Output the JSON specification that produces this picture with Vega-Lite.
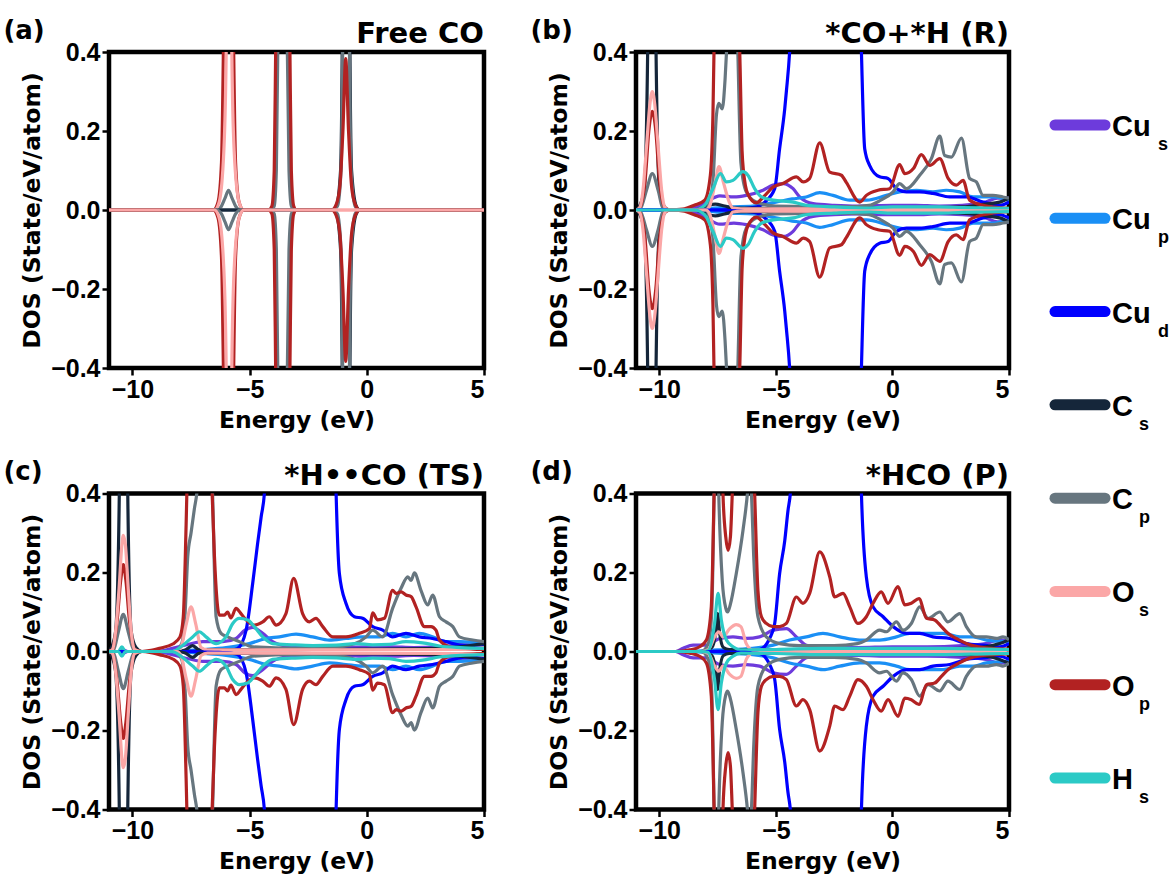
{
  "$schema": "https://vega.github.io/schema/vega-lite/v6.json",
  "background": "white",
  "padding": {"left": 3, "top": 17, "right": 0, "bottom": 0},
  "config": {
    "font": "Liberation Sans",
    "view": {"stroke": "black", "strokeWidth": 4.5},
    "axis": {"labelFont": "Liberation Sans", "labelFontSize": 25, "labelFontWeight": "bold", "labelColor": "black", "titleFont": "DejaVu Sans", "titleFontWeight": "bold", "titleColor": "black", "grid": false, "domain": false, "tickColor": "black", "tickSize": 7, "tickWidth": 2.5, "labelPadding": 2, "titlePadding": 6},
    "axisX": {"titleFontSize": 23.5},
    "axisY": {"titleFontSize": 23.5}
  },
  "datasets": {
    "a": [
      {"o":"C_s","e":-11,"up":0,"dn":0},{"o":"C_s","e":-1.5,"up":0,"dn":0},{"o":"C_s","e":-1.3,"up":0.01,"dn":-0.01},{"o":"C_s","e":-1.12,"up":0.1,"dn":-0.1},{"o":"C_s","e":-1.05,"up":0.4,"dn":-0.4},{"o":"C_s","e":-0.885,"up":3,"dn":-3},{"o":"C_s","e":-0.72,"up":0.4,"dn":-0.4},{"o":"C_s","e":-0.65,"up":0.1,"dn":-0.1},{"o":"C_s","e":-0.45,"up":0.01,"dn":-0.01},{"o":"C_s","e":-0.3,"up":0,"dn":0},{"o":"C_s","e":5,"up":0,"dn":0},
      {"o":"C_p","e":-11,"up":0,"dn":0},{"o":"C_p","e":-6.4,"up":0,"dn":0},{"o":"C_p","e":-6.2,"up":0.01,"dn":-0.01},{"o":"C_p","e":-6.05,"up":0.03,"dn":-0.03},{"o":"C_p","e":-5.9,"up":0.05,"dn":-0.05},{"o":"C_p","e":-5.75,"up":0.03,"dn":-0.03},{"o":"C_p","e":-5.6,"up":0.01,"dn":-0.01},{"o":"C_p","e":-5.4,"up":0,"dn":0},{"o":"C_p","e":-4.1,"up":0,"dn":0},{"o":"C_p","e":-3.95,"up":0.01,"dn":-0.01},{"o":"C_p","e":-3.86,"up":0.1,"dn":-0.1},{"o":"C_p","e":-3.8,"up":0.4,"dn":-0.4},{"o":"C_p","e":-3.6,"up":2.5,"dn":-2.5},{"o":"C_p","e":-3.39,"up":0.4,"dn":-0.4},{"o":"C_p","e":-3.32,"up":0.1,"dn":-0.1},{"o":"C_p","e":-3.22,"up":0.01,"dn":-0.01},{"o":"C_p","e":-3.1,"up":0,"dn":0},{"o":"C_p","e":-1.45,"up":0,"dn":0},{"o":"C_p","e":-1.25,"up":0.01,"dn":-0.01},{"o":"C_p","e":-1.1,"up":0.1,"dn":-0.1},{"o":"C_p","e":-1.03,"up":0.4,"dn":-0.4},{"o":"C_p","e":-0.885,"up":2,"dn":-2},{"o":"C_p","e":-0.74,"up":0.4,"dn":-0.4},{"o":"C_p","e":-0.67,"up":0.1,"dn":-0.1},{"o":"C_p","e":-0.5,"up":0.01,"dn":-0.01},{"o":"C_p","e":-0.35,"up":0,"dn":0},{"o":"C_p","e":5,"up":0,"dn":0},
      {"o":"O_p","e":-11,"up":0,"dn":0},{"o":"O_p","e":-6.55,"up":0,"dn":0},{"o":"O_p","e":-6.35,"up":0.02,"dn":-0.02},{"o":"O_p","e":-6.2,"up":0.12,"dn":-0.12},{"o":"O_p","e":-6.12,"up":0.4,"dn":-0.4},{"o":"O_p","e":-5.9,"up":2,"dn":-2},{"o":"O_p","e":-5.68,"up":0.4,"dn":-0.4},{"o":"O_p","e":-5.6,"up":0.12,"dn":-0.12},{"o":"O_p","e":-5.45,"up":0.02,"dn":-0.02},{"o":"O_p","e":-5.25,"up":0,"dn":0},{"o":"O_p","e":-4.2,"up":0,"dn":0},{"o":"O_p","e":-4.05,"up":0.01,"dn":-0.01},{"o":"O_p","e":-3.95,"up":0.1,"dn":-0.1},{"o":"O_p","e":-3.89,"up":0.4,"dn":-0.4},{"o":"O_p","e":-3.585,"up":2.5,"dn":-2.5},{"o":"O_p","e":-3.28,"up":0.4,"dn":-0.4},{"o":"O_p","e":-3.22,"up":0.1,"dn":-0.1},{"o":"O_p","e":-3.12,"up":0.01,"dn":-0.01},{"o":"O_p","e":-3,"up":0,"dn":0},{"o":"O_p","e":-1.5,"up":0,"dn":0},{"o":"O_p","e":-1.3,"up":0.015,"dn":-0.015},{"o":"O_p","e":-1.15,"up":0.06,"dn":-0.06},{"o":"O_p","e":-1.02,"up":0.2,"dn":-0.2},{"o":"O_p","e":-0.9,"up":0.383,"dn":-0.383},{"o":"O_p","e":-0.78,"up":0.2,"dn":-0.2},{"o":"O_p","e":-0.65,"up":0.06,"dn":-0.06},{"o":"O_p","e":-0.5,"up":0.015,"dn":-0.015},{"o":"O_p","e":-0.3,"up":0,"dn":0},{"o":"O_p","e":5,"up":0,"dn":0},
      {"o":"O_s","e":-11,"up":0,"dn":0},{"o":"O_s","e":-6.5,"up":0,"dn":0},{"o":"O_s","e":-6.3,"up":0.02,"dn":-0.02},{"o":"O_s","e":-6.1,"up":0.15,"dn":-0.15},{"o":"O_s","e":-6,"up":0.4,"dn":-0.4},{"o":"O_s","e":-5.88,"up":1.5,"dn":-1.5},{"o":"O_s","e":-5.76,"up":0.4,"dn":-0.4},{"o":"O_s","e":-5.66,"up":0.15,"dn":-0.15},{"o":"O_s","e":-5.45,"up":0.02,"dn":-0.02},{"o":"O_s","e":-5.25,"up":0,"dn":0},{"o":"O_s","e":5,"up":0,"dn":0}
    ],
    "b": [
      {"o":"Cu_s","e":-11,"up":0,"dn":0},{"o":"Cu_s","e":-9,"up":0,"dn":0},{"o":"Cu_s","e":-8.5,"up":0.005,"dn":-0.005},{"o":"Cu_s","e":-8,"up":0.02,"dn":-0.02},{"o":"Cu_s","e":-7.4,"up":0.036,"dn":-0.036},{"o":"Cu_s","e":-6.8,"up":0.033,"dn":-0.033},{"o":"Cu_s","e":-6.27,"up":0.037,"dn":-0.037},{"o":"Cu_s","e":-5.55,"up":0.05,"dn":-0.05},{"o":"Cu_s","e":-5.12,"up":0.063,"dn":-0.063},{"o":"Cu_s","e":-4.69,"up":0.067,"dn":-0.067},{"o":"Cu_s","e":-4.26,"up":0.054,"dn":-0.054},{"o":"Cu_s","e":-3.98,"up":0.033,"dn":-0.033},{"o":"Cu_s","e":-3.4,"up":0.016,"dn":-0.016},{"o":"Cu_s","e":-2.5,"up":0.012,"dn":-0.012},{"o":"Cu_s","e":-1.5,"up":0.01,"dn":-0.01},{"o":"Cu_s","e":0,"up":0.012,"dn":-0.012},{"o":"Cu_s","e":1,"up":0.012,"dn":-0.012},{"o":"Cu_s","e":2,"up":0.01,"dn":-0.01},{"o":"Cu_s","e":3,"up":0.012,"dn":-0.012},{"o":"Cu_s","e":4,"up":0.02,"dn":-0.02},{"o":"Cu_s","e":4.5,"up":0.03,"dn":-0.03},{"o":"Cu_s","e":5,"up":0.03,"dn":-0.03},
      {"o":"Cu_p","e":-11,"up":0,"dn":0},{"o":"Cu_p","e":-9,"up":0,"dn":0},{"o":"Cu_p","e":-8,"up":0.003,"dn":-0.003},{"o":"Cu_p","e":-7,"up":0.008,"dn":-0.008},{"o":"Cu_p","e":-6,"up":0.01,"dn":-0.01},{"o":"Cu_p","e":-5,"up":0.02,"dn":-0.02},{"o":"Cu_p","e":-4.3,"up":0.028,"dn":-0.028},{"o":"Cu_p","e":-3.7,"up":0.033,"dn":-0.033},{"o":"Cu_p","e":-3.12,"up":0.044,"dn":-0.044},{"o":"Cu_p","e":-2.55,"up":0.037,"dn":-0.037},{"o":"Cu_p","e":-1.83,"up":0.025,"dn":-0.025},{"o":"Cu_p","e":-1.1,"up":0.025,"dn":-0.025},{"o":"Cu_p","e":-0.26,"up":0.037,"dn":-0.037},{"o":"Cu_p","e":0.31,"up":0.046,"dn":-0.046},{"o":"Cu_p","e":1.03,"up":0.05,"dn":-0.05},{"o":"Cu_p","e":1.74,"up":0.046,"dn":-0.046},{"o":"Cu_p","e":2.31,"up":0.05,"dn":-0.05},{"o":"Cu_p","e":2.89,"up":0.046,"dn":-0.046},{"o":"Cu_p","e":3.46,"up":0.033,"dn":-0.033},{"o":"Cu_p","e":4.32,"up":0.033,"dn":-0.033},{"o":"Cu_p","e":5,"up":0.025,"dn":-0.025},
      {"o":"Cu_d","e":-11,"up":0,"dn":0},{"o":"Cu_d","e":-8,"up":0,"dn":0},{"o":"Cu_d","e":-6.5,"up":0.003,"dn":-0.003},{"o":"Cu_d","e":-5.8,"up":0.008,"dn":-0.008},{"o":"Cu_d","e":-5.48,"up":0.02,"dn":-0.02},{"o":"Cu_d","e":-5.05,"up":0.054,"dn":-0.054},{"o":"Cu_d","e":-4.84,"up":0.155,"dn":-0.155},{"o":"Cu_d","e":-4.62,"up":0.256,"dn":-0.256},{"o":"Cu_d","e":-4.55,"up":0.3,"dn":-0.3},{"o":"Cu_d","e":-4.41,"up":0.4,"dn":-0.4},{"o":"Cu_d","e":-4.2,"up":0.7,"dn":-0.7},{"o":"Cu_d","e":-3,"up":1.5,"dn":-1.5},{"o":"Cu_d","e":-2,"up":1.5,"dn":-1.5},{"o":"Cu_d","e":-1.45,"up":0.7,"dn":-0.7},{"o":"Cu_d","e":-1.33,"up":0.4,"dn":-0.4},{"o":"Cu_d","e":-1.19,"up":0.155,"dn":-0.155},{"o":"Cu_d","e":-0.98,"up":0.113,"dn":-0.113},{"o":"Cu_d","e":-0.55,"up":0.084,"dn":-0.084},{"o":"Cu_d","e":-0.19,"up":0.08,"dn":-0.08},{"o":"Cu_d","e":0.17,"up":0.054,"dn":-0.054},{"o":"Cu_d","e":0.6,"up":0.046,"dn":-0.046},{"o":"Cu_d","e":1.17,"up":0.046,"dn":-0.046},{"o":"Cu_d","e":1.74,"up":0.042,"dn":-0.042},{"o":"Cu_d","e":2.46,"up":0.033,"dn":-0.033},{"o":"Cu_d","e":3.17,"up":0.033,"dn":-0.033},{"o":"Cu_d","e":3.89,"up":0.02,"dn":-0.02},{"o":"Cu_d","e":4.6,"up":0.012,"dn":-0.012},{"o":"Cu_d","e":5,"up":0.02,"dn":-0.02},
      {"o":"C_s","e":-11,"up":0,"dn":0},{"o":"C_s","e":-10.85,"up":0.01,"dn":-0.01},{"o":"C_s","e":-10.65,"up":0.05,"dn":-0.05},{"o":"C_s","e":-10.5,"up":0.4,"dn":-0.4},{"o":"C_s","e":-10.32,"up":3,"dn":-3},{"o":"C_s","e":-10.14,"up":0.4,"dn":-0.4},{"o":"C_s","e":-9.99,"up":0.05,"dn":-0.05},{"o":"C_s","e":-9.8,"up":0.01,"dn":-0.01},{"o":"C_s","e":-9.6,"up":0,"dn":0},{"o":"C_s","e":-8.5,"up":0,"dn":0},{"o":"C_s","e":-8,"up":0.01,"dn":-0.01},{"o":"C_s","e":-7.6,"up":0.015,"dn":-0.015},{"o":"C_s","e":-7.2,"up":0.01,"dn":-0.01},{"o":"C_s","e":-6.8,"up":0.005,"dn":-0.005},{"o":"C_s","e":-5,"up":0.004,"dn":-0.004},{"o":"C_s","e":0,"up":0.005,"dn":-0.005},{"o":"C_s","e":3,"up":0.008,"dn":-0.008},{"o":"C_s","e":4,"up":0.015,"dn":-0.015},{"o":"C_s","e":4.6,"up":0.02,"dn":-0.02},{"o":"C_s","e":5,"up":0.03,"dn":-0.03},
      {"o":"C_p","e":-11,"up":0,"dn":0},{"o":"C_p","e":-10.8,"up":0.005,"dn":-0.005},{"o":"C_p","e":-10.55,"up":0.05,"dn":-0.05},{"o":"C_p","e":-10.3,"up":0.092,"dn":-0.092},{"o":"C_p","e":-10.05,"up":0.05,"dn":-0.05},{"o":"C_p","e":-9.85,"up":0.005,"dn":-0.005},{"o":"C_p","e":-9.6,"up":0,"dn":0},{"o":"C_p","e":-8,"up":0,"dn":0},{"o":"C_p","e":-7.85,"up":0.02,"dn":-0.02},{"o":"C_p","e":-7.7,"up":0.071,"dn":-0.071},{"o":"C_p","e":-7.55,"up":0.24,"dn":-0.24},{"o":"C_p","e":-7.45,"up":0.27,"dn":-0.27},{"o":"C_p","e":-7.3,"up":0.256,"dn":-0.256},{"o":"C_p","e":-7.18,"up":0.33,"dn":-0.33},{"o":"C_p","e":-7.1,"up":0.42,"dn":-0.42},{"o":"C_p","e":-6.85,"up":0.8,"dn":-0.8},{"o":"C_p","e":-6.64,"up":0.42,"dn":-0.42},{"o":"C_p","e":-6.5,"up":0.12,"dn":-0.12},{"o":"C_p","e":-6.27,"up":0.046,"dn":-0.046},{"o":"C_p","e":-5.84,"up":0.02,"dn":-0.02},{"o":"C_p","e":-5,"up":0.01,"dn":-0.01},{"o":"C_p","e":-2,"up":0.008,"dn":-0.008},{"o":"C_p","e":-1,"up":0.012,"dn":-0.012},{"o":"C_p","e":-0.5,"up":0.025,"dn":-0.025},{"o":"C_p","e":0.03,"up":0.046,"dn":-0.046},{"o":"C_p","e":0.31,"up":0.067,"dn":-0.067},{"o":"C_p","e":0.6,"up":0.054,"dn":-0.054},{"o":"C_p","e":1.17,"up":0.088,"dn":-0.088},{"o":"C_p","e":1.67,"up":0.13,"dn":-0.13},{"o":"C_p","e":2.03,"up":0.187,"dn":-0.187},{"o":"C_p","e":2.24,"up":0.138,"dn":-0.138},{"o":"C_p","e":2.53,"up":0.134,"dn":-0.134},{"o":"C_p","e":2.96,"up":0.182,"dn":-0.182},{"o":"C_p","e":3.31,"up":0.08,"dn":-0.08},{"o":"C_p","e":3.6,"up":0.071,"dn":-0.071},{"o":"C_p","e":3.89,"up":0.037,"dn":-0.037},{"o":"C_p","e":4.3,"up":0.037,"dn":-0.037},{"o":"C_p","e":4.74,"up":0.033,"dn":-0.033},{"o":"C_p","e":5,"up":0.03,"dn":-0.03},
      {"o":"O_p","e":-11,"up":0,"dn":0},{"o":"O_p","e":-10.85,"up":0.005,"dn":-0.005},{"o":"O_p","e":-10.6,"up":0.08,"dn":-0.08},{"o":"O_p","e":-10.45,"up":0.2,"dn":-0.2},{"o":"O_p","e":-10.3,"up":0.25,"dn":-0.25},{"o":"O_p","e":-10.15,"up":0.2,"dn":-0.2},{"o":"O_p","e":-10,"up":0.08,"dn":-0.08},{"o":"O_p","e":-9.75,"up":0.005,"dn":-0.005},{"o":"O_p","e":-9.5,"up":0,"dn":0},{"o":"O_p","e":-9,"up":0.002,"dn":-0.002},{"o":"O_p","e":-8.5,"up":0.012,"dn":-0.012},{"o":"O_p","e":-8.05,"up":0.025,"dn":-0.025},{"o":"O_p","e":-7.81,"up":0.088,"dn":-0.088},{"o":"O_p","e":-7.7,"up":0.24,"dn":-0.24},{"o":"O_p","e":-7.6,"up":0.6,"dn":-0.6},{"o":"O_p","e":-7,"up":1.5,"dn":-1.5},{"o":"O_p","e":-6.7,"up":0.6,"dn":-0.6},{"o":"O_p","e":-6.55,"up":0.4,"dn":-0.4},{"o":"O_p","e":-6.45,"up":0.15,"dn":-0.15},{"o":"O_p","e":-6.4,"up":0.105,"dn":-0.105},{"o":"O_p","e":-6.2,"up":0.04,"dn":-0.04},{"o":"O_p","e":-5.84,"up":0.018,"dn":-0.018},{"o":"O_p","e":-5.5,"up":0.035,"dn":-0.035},{"o":"O_p","e":-5.12,"up":0.058,"dn":-0.058},{"o":"O_p","e":-4.7,"up":0.067,"dn":-0.067},{"o":"O_p","e":-4.12,"up":0.084,"dn":-0.084},{"o":"O_p","e":-3.83,"up":0.071,"dn":-0.071},{"o":"O_p","e":-3.55,"up":0.08,"dn":-0.08},{"o":"O_p","e":-3.12,"up":0.17,"dn":-0.17},{"o":"O_p","e":-2.69,"up":0.096,"dn":-0.096},{"o":"O_p","e":-2.19,"up":0.088,"dn":-0.088},{"o":"O_p","e":-1.98,"up":0.07,"dn":-0.07},{"o":"O_p","e":-1.4,"up":0.02,"dn":-0.02},{"o":"O_p","e":-1.12,"up":0.037,"dn":-0.037},{"o":"O_p","e":-0.62,"up":0.05,"dn":-0.05},{"o":"O_p","e":-0.12,"up":0.054,"dn":-0.054},{"o":"O_p","e":0.31,"up":0.115,"dn":-0.115},{"o":"O_p","e":0.53,"up":0.092,"dn":-0.092},{"o":"O_p","e":0.9,"up":0.105,"dn":-0.105},{"o":"O_p","e":1.24,"up":0.14,"dn":-0.14},{"o":"O_p","e":1.6,"up":0.113,"dn":-0.113},{"o":"O_p","e":2.03,"up":0.13,"dn":-0.13},{"o":"O_p","e":2.39,"up":0.08,"dn":-0.08},{"o":"O_p","e":2.74,"up":0.063,"dn":-0.063},{"o":"O_p","e":3.03,"up":0.075,"dn":-0.075},{"o":"O_p","e":3.31,"up":0.025,"dn":-0.025},{"o":"O_p","e":3.89,"up":0.012,"dn":-0.012},{"o":"O_p","e":5,"up":0.004,"dn":-0.004},
      {"o":"O_s","e":-11,"up":0,"dn":0},{"o":"O_s","e":-10.85,"up":0.005,"dn":-0.005},{"o":"O_s","e":-10.7,"up":0.05,"dn":-0.05},{"o":"O_s","e":-10.55,"up":0.16,"dn":-0.16},{"o":"O_s","e":-10.4,"up":0.27,"dn":-0.27},{"o":"O_s","e":-10.3,"up":0.3,"dn":-0.3},{"o":"O_s","e":-10.2,"up":0.27,"dn":-0.27},{"o":"O_s","e":-10.05,"up":0.16,"dn":-0.16},{"o":"O_s","e":-9.9,"up":0.05,"dn":-0.05},{"o":"O_s","e":-9.75,"up":0.005,"dn":-0.005},{"o":"O_s","e":-9.6,"up":0,"dn":0},{"o":"O_s","e":-8,"up":0,"dn":0},{"o":"O_s","e":-7.84,"up":0.01,"dn":-0.01},{"o":"O_s","e":-7.6,"up":0.07,"dn":-0.07},{"o":"O_s","e":-7.44,"up":0.11,"dn":-0.11},{"o":"O_s","e":-7.25,"up":0.07,"dn":-0.07},{"o":"O_s","e":-7,"up":0.02,"dn":-0.02},{"o":"O_s","e":-6.84,"up":0.005,"dn":-0.005},{"o":"O_s","e":-6.5,"up":0.003,"dn":-0.003},{"o":"O_s","e":5,"up":0.003,"dn":-0.003},
      {"o":"H_s","e":-11,"up":0,"dn":0},{"o":"H_s","e":-8.5,"up":0,"dn":0},{"o":"H_s","e":-8.05,"up":0.012,"dn":-0.012},{"o":"H_s","e":-7.7,"up":0.054,"dn":-0.054},{"o":"H_s","e":-7.38,"up":0.092,"dn":-0.092},{"o":"H_s","e":-7.12,"up":0.071,"dn":-0.071},{"o":"H_s","e":-6.84,"up":0.075,"dn":-0.075},{"o":"H_s","e":-6.41,"up":0.097,"dn":-0.097},{"o":"H_s","e":-6.2,"up":0.088,"dn":-0.088},{"o":"H_s","e":-5.91,"up":0.054,"dn":-0.054},{"o":"H_s","e":-5.62,"up":0.033,"dn":-0.033},{"o":"H_s","e":-5.12,"up":0.025,"dn":-0.025},{"o":"H_s","e":-4.26,"up":0.02,"dn":-0.02},{"o":"H_s","e":-3.7,"up":0.012,"dn":-0.012},{"o":"H_s","e":-2.5,"up":0.008,"dn":-0.008},{"o":"H_s","e":-1,"up":0.005,"dn":-0.005},{"o":"H_s","e":0,"up":0.008,"dn":-0.008},{"o":"H_s","e":1,"up":0.008,"dn":-0.008},{"o":"H_s","e":2,"up":0.008,"dn":-0.008},{"o":"H_s","e":3,"up":0.006,"dn":-0.006},{"o":"H_s","e":4,"up":0.005,"dn":-0.005},{"o":"H_s","e":5,"up":0.004,"dn":-0.004}
    ],
    "c": [
      {"o":"Cu_s","e":-11,"up":0,"dn":0},{"o":"Cu_s","e":-10.6,"up":0,"dn":0},{"o":"Cu_s","e":-10.4,"up":0.004,"dn":-0.004},{"o":"Cu_s","e":-10.2,"up":0,"dn":0},{"o":"Cu_s","e":-9,"up":0,"dn":0},{"o":"Cu_s","e":-8.3,"up":0.008,"dn":-0.008},{"o":"Cu_s","e":-7.57,"up":0.019,"dn":-0.019},{"o":"Cu_s","e":-7,"up":0.025,"dn":-0.025},{"o":"Cu_s","e":-6.15,"up":0.025,"dn":-0.025},{"o":"Cu_s","e":-5.58,"up":0.033,"dn":-0.033},{"o":"Cu_s","e":-5.2,"up":0.054,"dn":-0.054},{"o":"Cu_s","e":-4.87,"up":0.061,"dn":-0.061},{"o":"Cu_s","e":-4.44,"up":0.046,"dn":-0.046},{"o":"Cu_s","e":-4.02,"up":0.025,"dn":-0.025},{"o":"Cu_s","e":-3.4,"up":0.014,"dn":-0.014},{"o":"Cu_s","e":-2,"up":0.01,"dn":-0.01},{"o":"Cu_s","e":-1,"up":0.01,"dn":-0.01},{"o":"Cu_s","e":0,"up":0.012,"dn":-0.012},{"o":"Cu_s","e":1,"up":0.012,"dn":-0.012},{"o":"Cu_s","e":2,"up":0.01,"dn":-0.01},{"o":"Cu_s","e":3,"up":0.012,"dn":-0.012},{"o":"Cu_s","e":4,"up":0.018,"dn":-0.018},{"o":"Cu_s","e":5,"up":0.025,"dn":-0.025},
      {"o":"Cu_p","e":-11,"up":0,"dn":0},{"o":"Cu_p","e":-9,"up":0,"dn":0},{"o":"Cu_p","e":-7,"up":0.005,"dn":-0.005},{"o":"Cu_p","e":-6,"up":0.01,"dn":-0.01},{"o":"Cu_p","e":-5.01,"up":0.02,"dn":-0.02},{"o":"Cu_p","e":-4.3,"up":0.033,"dn":-0.033},{"o":"Cu_p","e":-3.73,"up":0.037,"dn":-0.037},{"o":"Cu_p","e":-3.02,"up":0.044,"dn":-0.044},{"o":"Cu_p","e":-2.31,"up":0.037,"dn":-0.037},{"o":"Cu_p","e":-1.6,"up":0.029,"dn":-0.029},{"o":"Cu_p","e":-0.89,"up":0.033,"dn":-0.033},{"o":"Cu_p","e":-0.18,"up":0.037,"dn":-0.037},{"o":"Cu_p","e":0.54,"up":0.037,"dn":-0.037},{"o":"Cu_p","e":1.1,"up":0.046,"dn":-0.046},{"o":"Cu_p","e":1.67,"up":0.037,"dn":-0.037},{"o":"Cu_p","e":2.24,"up":0.046,"dn":-0.046},{"o":"Cu_p","e":2.8,"up":0.037,"dn":-0.037},{"o":"Cu_p","e":3.38,"up":0.025,"dn":-0.025},{"o":"Cu_p","e":4,"up":0.025,"dn":-0.025},{"o":"Cu_p","e":5,"up":0.02,"dn":-0.02},
      {"o":"Cu_d","e":-11,"up":0,"dn":0},{"o":"Cu_d","e":-8,"up":0,"dn":0},{"o":"Cu_d","e":-6.5,"up":0.002,"dn":-0.002},{"o":"Cu_d","e":-5.8,"up":0.004,"dn":-0.004},{"o":"Cu_d","e":-5.51,"up":0.008,"dn":-0.008},{"o":"Cu_d","e":-5.15,"up":0.054,"dn":-0.054},{"o":"Cu_d","e":-4.87,"up":0.172,"dn":-0.172},{"o":"Cu_d","e":-4.66,"up":0.273,"dn":-0.273},{"o":"Cu_d","e":-4.51,"up":0.34,"dn":-0.34},{"o":"Cu_d","e":-4.37,"up":0.4,"dn":-0.4},{"o":"Cu_d","e":-4.1,"up":0.8,"dn":-0.8},{"o":"Cu_d","e":-3,"up":1.5,"dn":-1.5},{"o":"Cu_d","e":-2,"up":1.5,"dn":-1.5},{"o":"Cu_d","e":-1.45,"up":0.8,"dn":-0.8},{"o":"Cu_d","e":-1.31,"up":0.4,"dn":-0.4},{"o":"Cu_d","e":-1.17,"up":0.197,"dn":-0.197},{"o":"Cu_d","e":-0.89,"up":0.122,"dn":-0.122},{"o":"Cu_d","e":-0.53,"up":0.088,"dn":-0.088},{"o":"Cu_d","e":-0.18,"up":0.084,"dn":-0.084},{"o":"Cu_d","e":0.25,"up":0.063,"dn":-0.063},{"o":"Cu_d","e":0.68,"up":0.054,"dn":-0.054},{"o":"Cu_d","e":1.1,"up":0.037,"dn":-0.037},{"o":"Cu_d","e":1.67,"up":0.046,"dn":-0.046},{"o":"Cu_d","e":2.24,"up":0.037,"dn":-0.037},{"o":"Cu_d","e":2.8,"up":0.033,"dn":-0.033},{"o":"Cu_d","e":3.38,"up":0.025,"dn":-0.025},{"o":"Cu_d","e":3.95,"up":0.016,"dn":-0.016},{"o":"Cu_d","e":5,"up":0.012,"dn":-0.012},
      {"o":"C_s","e":-11,"up":0,"dn":0},{"o":"C_s","e":-10.9,"up":0.01,"dn":-0.01},{"o":"C_s","e":-10.72,"up":0.05,"dn":-0.05},{"o":"C_s","e":-10.56,"up":0.4,"dn":-0.4},{"o":"C_s","e":-10.38,"up":3,"dn":-3},{"o":"C_s","e":-10.2,"up":0.4,"dn":-0.4},{"o":"C_s","e":-10.05,"up":0.05,"dn":-0.05},{"o":"C_s","e":-9.85,"up":0.01,"dn":-0.01},{"o":"C_s","e":-9.6,"up":0,"dn":0},{"o":"C_s","e":-8,"up":0,"dn":0},{"o":"C_s","e":-7.75,"up":0.004,"dn":-0.004},{"o":"C_s","e":-7.43,"up":0.015,"dn":-0.015},{"o":"C_s","e":-7.15,"up":0.004,"dn":-0.004},{"o":"C_s","e":-6.8,"up":0.005,"dn":-0.005},{"o":"C_s","e":-3,"up":0.005,"dn":-0.005},{"o":"C_s","e":0,"up":0.006,"dn":-0.006},{"o":"C_s","e":3,"up":0.008,"dn":-0.008},{"o":"C_s","e":4,"up":0.012,"dn":-0.012},{"o":"C_s","e":5,"up":0.02,"dn":-0.02},
      {"o":"C_p","e":-11,"up":0,"dn":0},{"o":"C_p","e":-10.8,"up":0.005,"dn":-0.005},{"o":"C_p","e":-10.6,"up":0.05,"dn":-0.05},{"o":"C_p","e":-10.39,"up":0.094,"dn":-0.094},{"o":"C_p","e":-10.18,"up":0.05,"dn":-0.05},{"o":"C_p","e":-9.95,"up":0.005,"dn":-0.005},{"o":"C_p","e":-9.7,"up":0,"dn":0},{"o":"C_p","e":-8.2,"up":0,"dn":0},{"o":"C_p","e":-7.9,"up":0.02,"dn":-0.02},{"o":"C_p","e":-7.75,"up":0.1,"dn":-0.1},{"o":"C_p","e":-7.64,"up":0.24,"dn":-0.24},{"o":"C_p","e":-7.5,"up":0.3,"dn":-0.3},{"o":"C_p","e":-7.36,"up":0.36,"dn":-0.36},{"o":"C_p","e":-7.22,"up":0.42,"dn":-0.42},{"o":"C_p","e":-6.9,"up":0.9,"dn":-0.9},{"o":"C_p","e":-6.59,"up":0.42,"dn":-0.42},{"o":"C_p","e":-6.43,"up":0.088,"dn":-0.088},{"o":"C_p","e":-6.22,"up":0.046,"dn":-0.046},{"o":"C_p","e":-5.94,"up":0.037,"dn":-0.037},{"o":"C_p","e":-5.44,"up":0.025,"dn":-0.025},{"o":"C_p","e":-4.87,"up":0.012,"dn":-0.012},{"o":"C_p","e":-3,"up":0.008,"dn":-0.008},{"o":"C_p","e":-1.5,"up":0.01,"dn":-0.01},{"o":"C_p","e":-0.5,"up":0.02,"dn":-0.02},{"o":"C_p","e":-0.03,"up":0.037,"dn":-0.037},{"o":"C_p","e":0.25,"up":0.054,"dn":-0.054},{"o":"C_p","e":0.68,"up":0.037,"dn":-0.037},{"o":"C_p","e":1.1,"up":0.109,"dn":-0.109},{"o":"C_p","e":1.46,"up":0.16,"dn":-0.16},{"o":"C_p","e":1.75,"up":0.189,"dn":-0.189},{"o":"C_p","e":1.89,"up":0.18,"dn":-0.18},{"o":"C_p","e":2.03,"up":0.199,"dn":-0.199},{"o":"C_p","e":2.31,"up":0.155,"dn":-0.155},{"o":"C_p","e":2.6,"up":0.118,"dn":-0.118},{"o":"C_p","e":2.81,"up":0.143,"dn":-0.143},{"o":"C_p","e":3.1,"up":0.088,"dn":-0.088},{"o":"C_p","e":3.38,"up":0.075,"dn":-0.075},{"o":"C_p","e":3.67,"up":0.063,"dn":-0.063},{"o":"C_p","e":3.95,"up":0.037,"dn":-0.037},{"o":"C_p","e":4.52,"up":0.029,"dn":-0.029},{"o":"C_p","e":5,"up":0.025,"dn":-0.025},
      {"o":"O_p","e":-11,"up":0,"dn":0},{"o":"O_p","e":-10.85,"up":0.005,"dn":-0.005},{"o":"O_p","e":-10.65,"up":0.08,"dn":-0.08},{"o":"O_p","e":-10.5,"up":0.18,"dn":-0.18},{"o":"O_p","e":-10.39,"up":0.22,"dn":-0.22},{"o":"O_p","e":-10.28,"up":0.18,"dn":-0.18},{"o":"O_p","e":-10.13,"up":0.08,"dn":-0.08},{"o":"O_p","e":-9.9,"up":0.005,"dn":-0.005},{"o":"O_p","e":-9.6,"up":0,"dn":0},{"o":"O_p","e":-9.2,"up":0.003,"dn":-0.003},{"o":"O_p","e":-8.85,"up":0.008,"dn":-0.008},{"o":"O_p","e":-8.28,"up":0.019,"dn":-0.019},{"o":"O_p","e":-7.97,"up":0.037,"dn":-0.037},{"o":"O_p","e":-7.83,"up":0.088,"dn":-0.088},{"o":"O_p","e":-7.71,"up":0.32,"dn":-0.32},{"o":"O_p","e":-7.6,"up":0.6,"dn":-0.6},{"o":"O_p","e":-7.1,"up":1.5,"dn":-1.5},{"o":"O_p","e":-6.7,"up":0.6,"dn":-0.6},{"o":"O_p","e":-6.6,"up":0.4,"dn":-0.4},{"o":"O_p","e":-6.5,"up":0.24,"dn":-0.24},{"o":"O_p","e":-6.29,"up":0.092,"dn":-0.092},{"o":"O_p","e":-6.08,"up":0.092,"dn":-0.092},{"o":"O_p","e":-5.94,"up":0.1,"dn":-0.1},{"o":"O_p","e":-5.8,"up":0.085,"dn":-0.085},{"o":"O_p","e":-5.58,"up":0.109,"dn":-0.109},{"o":"O_p","e":-5.37,"up":0.096,"dn":-0.096},{"o":"O_p","e":-5.15,"up":0.08,"dn":-0.08},{"o":"O_p","e":-4.8,"up":0.067,"dn":-0.067},{"o":"O_p","e":-4.44,"up":0.075,"dn":-0.075},{"o":"O_p","e":-4.16,"up":0.088,"dn":-0.088},{"o":"O_p","e":-3.87,"up":0.067,"dn":-0.067},{"o":"O_p","e":-3.45,"up":0.096,"dn":-0.096},{"o":"O_p","e":-3.12,"up":0.185,"dn":-0.185},{"o":"O_p","e":-2.74,"up":0.096,"dn":-0.096},{"o":"O_p","e":-2.45,"up":0.075,"dn":-0.075},{"o":"O_p","e":-2.17,"up":0.084,"dn":-0.084},{"o":"O_p","e":-1.88,"up":0.063,"dn":-0.063},{"o":"O_p","e":-1.45,"up":0.037,"dn":-0.037},{"o":"O_p","e":-0.89,"up":0.037,"dn":-0.037},{"o":"O_p","e":-0.32,"up":0.046,"dn":-0.046},{"o":"O_p","e":0.11,"up":0.058,"dn":-0.058},{"o":"O_p","e":0.25,"up":0.098,"dn":-0.098},{"o":"O_p","e":0.46,"up":0.08,"dn":-0.08},{"o":"O_p","e":0.75,"up":0.084,"dn":-0.084},{"o":"O_p","e":1.1,"up":0.155,"dn":-0.155},{"o":"O_p","e":1.25,"up":0.147,"dn":-0.147},{"o":"O_p","e":1.46,"up":0.151,"dn":-0.151},{"o":"O_p","e":1.67,"up":0.143,"dn":-0.143},{"o":"O_p","e":1.89,"up":0.139,"dn":-0.139},{"o":"O_p","e":2.1,"up":0.113,"dn":-0.113},{"o":"O_p","e":2.46,"up":0.063,"dn":-0.063},{"o":"O_p","e":2.74,"up":0.063,"dn":-0.063},{"o":"O_p","e":2.95,"up":0.054,"dn":-0.054},{"o":"O_p","e":3.1,"up":0.029,"dn":-0.029},{"o":"O_p","e":3.52,"up":0.012,"dn":-0.012},{"o":"O_p","e":4.2,"up":0.006,"dn":-0.006},{"o":"O_p","e":5,"up":0.005,"dn":-0.005},
      {"o":"O_s","e":-11,"up":0,"dn":0},{"o":"O_s","e":-10.85,"up":0.005,"dn":-0.005},{"o":"O_s","e":-10.72,"up":0.05,"dn":-0.05},{"o":"O_s","e":-10.57,"up":0.16,"dn":-0.16},{"o":"O_s","e":-10.45,"up":0.27,"dn":-0.27},{"o":"O_s","e":-10.39,"up":0.294,"dn":-0.294},{"o":"O_s","e":-10.3,"up":0.27,"dn":-0.27},{"o":"O_s","e":-10.18,"up":0.16,"dn":-0.16},{"o":"O_s","e":-10.05,"up":0.05,"dn":-0.05},{"o":"O_s","e":-9.9,"up":0.005,"dn":-0.005},{"o":"O_s","e":-9.6,"up":0,"dn":0},{"o":"O_s","e":-8.1,"up":0,"dn":0},{"o":"O_s","e":-7.93,"up":0.01,"dn":-0.01},{"o":"O_s","e":-7.7,"up":0.07,"dn":-0.07},{"o":"O_s","e":-7.5,"up":0.113,"dn":-0.113},{"o":"O_s","e":-7.3,"up":0.07,"dn":-0.07},{"o":"O_s","e":-7.07,"up":0.01,"dn":-0.01},{"o":"O_s","e":-6.8,"up":0.004,"dn":-0.004},{"o":"O_s","e":-4,"up":0.004,"dn":-0.004},{"o":"O_s","e":4,"up":0.005,"dn":-0.005},{"o":"O_s","e":5,"up":0.01,"dn":-0.01},
      {"o":"H_s","e":-11,"up":0,"dn":0},{"o":"H_s","e":-10.6,"up":0,"dn":0},{"o":"H_s","e":-10.45,"up":0.012,"dn":-0.012},{"o":"H_s","e":-10.3,"up":0,"dn":0},{"o":"H_s","e":-8.3,"up":0,"dn":0},{"o":"H_s","e":-7.93,"up":0.012,"dn":-0.012},{"o":"H_s","e":-7.43,"up":0.037,"dn":-0.037},{"o":"H_s","e":-7.15,"up":0.05,"dn":-0.05},{"o":"H_s","e":-6.86,"up":0.037,"dn":-0.037},{"o":"H_s","e":-6.43,"up":0.02,"dn":-0.02},{"o":"H_s","e":-6.01,"up":0.037,"dn":-0.037},{"o":"H_s","e":-5.72,"up":0.071,"dn":-0.071},{"o":"H_s","e":-5.44,"up":0.084,"dn":-0.084},{"o":"H_s","e":-5.08,"up":0.08,"dn":-0.08},{"o":"H_s","e":-4.8,"up":0.063,"dn":-0.063},{"o":"H_s","e":-4.44,"up":0.037,"dn":-0.037},{"o":"H_s","e":-4.02,"up":0.02,"dn":-0.02},{"o":"H_s","e":-3.2,"up":0.017,"dn":-0.017},{"o":"H_s","e":-2.3,"up":0.015,"dn":-0.015},{"o":"H_s","e":-1.3,"up":0.016,"dn":-0.016},{"o":"H_s","e":-0.46,"up":0.02,"dn":-0.02},{"o":"H_s","e":0.25,"up":0.017,"dn":-0.017},{"o":"H_s","e":0.96,"up":0.018,"dn":-0.018},{"o":"H_s","e":1.67,"up":0.025,"dn":-0.025},{"o":"H_s","e":2.38,"up":0.022,"dn":-0.022},{"o":"H_s","e":3.1,"up":0.014,"dn":-0.014},{"o":"H_s","e":4,"up":0.01,"dn":-0.01},{"o":"H_s","e":5,"up":0.008,"dn":-0.008}
    ],
    "d": [
      {"o":"Cu_s","e":-11,"up":0,"dn":0},{"o":"Cu_s","e":-9.3,"up":0,"dn":0},{"o":"Cu_s","e":-8.98,"up":0.008,"dn":-0.008},{"o":"Cu_s","e":-8.55,"up":0.016,"dn":-0.016},{"o":"Cu_s","e":-7.98,"up":0.016,"dn":-0.016},{"o":"Cu_s","e":-7.41,"up":0.033,"dn":-0.033},{"o":"Cu_s","e":-6.84,"up":0.037,"dn":-0.037},{"o":"Cu_s","e":-6.27,"up":0.033,"dn":-0.033},{"o":"Cu_s","e":-5.7,"up":0.037,"dn":-0.037},{"o":"Cu_s","e":-5.12,"up":0.054,"dn":-0.054},{"o":"Cu_s","e":-4.55,"up":0.058,"dn":-0.058},{"o":"Cu_s","e":-4.12,"up":0.037,"dn":-0.037},{"o":"Cu_s","e":-3.69,"up":0.016,"dn":-0.016},{"o":"Cu_s","e":-3,"up":0.01,"dn":-0.01},{"o":"Cu_s","e":-1.5,"up":0.01,"dn":-0.01},{"o":"Cu_s","e":0,"up":0.012,"dn":-0.012},{"o":"Cu_s","e":1.5,"up":0.012,"dn":-0.012},{"o":"Cu_s","e":3,"up":0.015,"dn":-0.015},{"o":"Cu_s","e":4,"up":0.02,"dn":-0.02},{"o":"Cu_s","e":4.6,"up":0.03,"dn":-0.03},{"o":"Cu_s","e":5,"up":0.025,"dn":-0.025},
      {"o":"Cu_p","e":-11,"up":0,"dn":0},{"o":"Cu_p","e":-9,"up":0,"dn":0},{"o":"Cu_p","e":-7.5,"up":0.004,"dn":-0.004},{"o":"Cu_p","e":-6,"up":0.008,"dn":-0.008},{"o":"Cu_p","e":-5.12,"up":0.016,"dn":-0.016},{"o":"Cu_p","e":-4.41,"up":0.029,"dn":-0.029},{"o":"Cu_p","e":-3.69,"up":0.037,"dn":-0.037},{"o":"Cu_p","e":-2.98,"up":0.046,"dn":-0.046},{"o":"Cu_p","e":-2.26,"up":0.037,"dn":-0.037},{"o":"Cu_p","e":-1.4,"up":0.029,"dn":-0.029},{"o":"Cu_p","e":-0.55,"up":0.029,"dn":-0.029},{"o":"Cu_p","e":0.17,"up":0.037,"dn":-0.037},{"o":"Cu_p","e":0.74,"up":0.046,"dn":-0.046},{"o":"Cu_p","e":1.46,"up":0.046,"dn":-0.046},{"o":"Cu_p","e":2.17,"up":0.046,"dn":-0.046},{"o":"Cu_p","e":2.89,"up":0.037,"dn":-0.037},{"o":"Cu_p","e":3.46,"up":0.037,"dn":-0.037},{"o":"Cu_p","e":4.03,"up":0.029,"dn":-0.029},{"o":"Cu_p","e":5,"up":0.025,"dn":-0.025},
      {"o":"Cu_d","e":-11,"up":0,"dn":0},{"o":"Cu_d","e":-8,"up":0,"dn":0},{"o":"Cu_d","e":-6.5,"up":0.002,"dn":-0.002},{"o":"Cu_d","e":-5.7,"up":0.005,"dn":-0.005},{"o":"Cu_d","e":-5.27,"up":0.033,"dn":-0.033},{"o":"Cu_d","e":-5.05,"up":0.071,"dn":-0.071},{"o":"Cu_d","e":-4.84,"up":0.197,"dn":-0.197},{"o":"Cu_d","e":-4.62,"up":0.28,"dn":-0.28},{"o":"Cu_d","e":-4.48,"up":0.357,"dn":-0.357},{"o":"Cu_d","e":-4.38,"up":0.4,"dn":-0.4},{"o":"Cu_d","e":-4.1,"up":0.8,"dn":-0.8},{"o":"Cu_d","e":-3,"up":1.5,"dn":-1.5},{"o":"Cu_d","e":-2,"up":1.5,"dn":-1.5},{"o":"Cu_d","e":-1.45,"up":0.8,"dn":-0.8},{"o":"Cu_d","e":-1.33,"up":0.4,"dn":-0.4},{"o":"Cu_d","e":-1.12,"up":0.189,"dn":-0.189},{"o":"Cu_d","e":-0.83,"up":0.113,"dn":-0.113},{"o":"Cu_d","e":-0.4,"up":0.088,"dn":-0.088},{"o":"Cu_d","e":0.03,"up":0.063,"dn":-0.063},{"o":"Cu_d","e":0.6,"up":0.046,"dn":-0.046},{"o":"Cu_d","e":1.17,"up":0.046,"dn":-0.046},{"o":"Cu_d","e":1.74,"up":0.037,"dn":-0.037},{"o":"Cu_d","e":2.46,"up":0.033,"dn":-0.033},{"o":"Cu_d","e":3.17,"up":0.02,"dn":-0.02},{"o":"Cu_d","e":3.89,"up":0.016,"dn":-0.016},{"o":"Cu_d","e":4.6,"up":0.012,"dn":-0.012},{"o":"Cu_d","e":5,"up":0.02,"dn":-0.02},
      {"o":"C_s","e":-11,"up":0,"dn":0},{"o":"C_s","e":-8.2,"up":0,"dn":0},{"o":"C_s","e":-7.75,"up":0.01,"dn":-0.01},{"o":"C_s","e":-7.58,"up":0.05,"dn":-0.05},{"o":"C_s","e":-7.5,"up":0.096,"dn":-0.096},{"o":"C_s","e":-7.42,"up":0.05,"dn":-0.05},{"o":"C_s","e":-7.25,"up":0.01,"dn":-0.01},{"o":"C_s","e":-7,"up":0.005,"dn":-0.005},{"o":"C_s","e":-3,"up":0.005,"dn":-0.005},{"o":"C_s","e":0,"up":0.006,"dn":-0.006},{"o":"C_s","e":3,"up":0.008,"dn":-0.008},{"o":"C_s","e":4,"up":0.012,"dn":-0.012},{"o":"C_s","e":4.6,"up":0.02,"dn":-0.02},{"o":"C_s","e":5,"up":0.03,"dn":-0.03},
      {"o":"C_p","e":-11,"up":0,"dn":0},{"o":"C_p","e":-8.2,"up":0,"dn":0},{"o":"C_p","e":-7.9,"up":0.02,"dn":-0.02},{"o":"C_p","e":-7.75,"up":0.1,"dn":-0.1},{"o":"C_p","e":-7.65,"up":0.4,"dn":-0.4},{"o":"C_p","e":-7.55,"up":0.7,"dn":-0.7},{"o":"C_p","e":-7.45,"up":0.4,"dn":-0.4},{"o":"C_p","e":-7.3,"up":0.18,"dn":-0.18},{"o":"C_p","e":-7.15,"up":0.11,"dn":-0.11},{"o":"C_p","e":-7.07,"up":0.1,"dn":-0.1},{"o":"C_p","e":-6.95,"up":0.12,"dn":-0.12},{"o":"C_p","e":-6.7,"up":0.197,"dn":-0.197},{"o":"C_p","e":-6.41,"up":0.307,"dn":-0.307},{"o":"C_p","e":-6.22,"up":0.4,"dn":-0.4},{"o":"C_p","e":-6.15,"up":0.45,"dn":-0.45},{"o":"C_p","e":-6.05,"up":0.4,"dn":-0.4},{"o":"C_p","e":-5.95,"up":0.24,"dn":-0.24},{"o":"C_p","e":-5.77,"up":0.088,"dn":-0.088},{"o":"C_p","e":-5.41,"up":0.037,"dn":-0.037},{"o":"C_p","e":-4.84,"up":0.02,"dn":-0.02},{"o":"C_p","e":-4,"up":0.015,"dn":-0.015},{"o":"C_p","e":-2.5,"up":0.015,"dn":-0.015},{"o":"C_p","e":-1.5,"up":0.02,"dn":-0.02},{"o":"C_p","e":-1.12,"up":0.029,"dn":-0.029},{"o":"C_p","e":-0.55,"up":0.054,"dn":-0.054},{"o":"C_p","e":-0.26,"up":0.05,"dn":-0.05},{"o":"C_p","e":0.17,"up":0.075,"dn":-0.075},{"o":"C_p","e":0.45,"up":0.054,"dn":-0.054},{"o":"C_p","e":0.81,"up":0.071,"dn":-0.071},{"o":"C_p","e":1.17,"up":0.113,"dn":-0.113},{"o":"C_p","e":1.53,"up":0.084,"dn":-0.084},{"o":"C_p","e":2.03,"up":0.1,"dn":-0.1},{"o":"C_p","e":2.38,"up":0.075,"dn":-0.075},{"o":"C_p","e":2.89,"up":0.096,"dn":-0.096},{"o":"C_p","e":3.17,"up":0.063,"dn":-0.063},{"o":"C_p","e":3.6,"up":0.037,"dn":-0.037},{"o":"C_p","e":4.03,"up":0.037,"dn":-0.037},{"o":"C_p","e":4.46,"up":0.033,"dn":-0.033},{"o":"C_p","e":4.74,"up":0.037,"dn":-0.037},{"o":"C_p","e":5,"up":0.03,"dn":-0.03},
      {"o":"O_p","e":-11,"up":0,"dn":0},{"o":"O_p","e":-9.3,"up":0,"dn":0},{"o":"O_p","e":-8.7,"up":0.004,"dn":-0.004},{"o":"O_p","e":-8.27,"up":0.012,"dn":-0.012},{"o":"O_p","e":-7.98,"up":0.029,"dn":-0.029},{"o":"O_p","e":-7.77,"up":0.113,"dn":-0.113},{"o":"O_p","e":-7.65,"up":0.4,"dn":-0.4},{"o":"O_p","e":-7.46,"up":1,"dn":-1},{"o":"O_p","e":-7.27,"up":0.4,"dn":-0.4},{"o":"O_p","e":-7.15,"up":0.29,"dn":-0.29},{"o":"O_p","e":-7.05,"up":0.256,"dn":-0.256},{"o":"O_p","e":-6.95,"up":0.29,"dn":-0.29},{"o":"O_p","e":-6.87,"up":0.4,"dn":-0.4},{"o":"O_p","e":-6.4,"up":1.2,"dn":-1.2},{"o":"O_p","e":-5.91,"up":0.4,"dn":-0.4},{"o":"O_p","e":-5.77,"up":0.155,"dn":-0.155},{"o":"O_p","e":-5.62,"up":0.088,"dn":-0.088},{"o":"O_p","e":-5.41,"up":0.071,"dn":-0.071},{"o":"O_p","e":-5.12,"up":0.063,"dn":-0.063},{"o":"O_p","e":-4.84,"up":0.063,"dn":-0.063},{"o":"O_p","e":-4.55,"up":0.071,"dn":-0.071},{"o":"O_p","e":-4.12,"up":0.138,"dn":-0.138},{"o":"O_p","e":-3.84,"up":0.122,"dn":-0.122},{"o":"O_p","e":-3.55,"up":0.147,"dn":-0.147},{"o":"O_p","e":-3.12,"up":0.252,"dn":-0.252},{"o":"O_p","e":-2.69,"up":0.189,"dn":-0.189},{"o":"O_p","e":-2.48,"up":0.138,"dn":-0.138},{"o":"O_p","e":-2.12,"up":0.147,"dn":-0.147},{"o":"O_p","e":-1.83,"up":0.113,"dn":-0.113},{"o":"O_p","e":-1.48,"up":0.071,"dn":-0.071},{"o":"O_p","e":-1.12,"up":0.088,"dn":-0.088},{"o":"O_p","e":-0.83,"up":0.122,"dn":-0.122},{"o":"O_p","e":-0.48,"up":0.151,"dn":-0.151},{"o":"O_p","e":-0.19,"up":0.122,"dn":-0.122},{"o":"O_p","e":0.24,"up":0.164,"dn":-0.164},{"o":"O_p","e":0.53,"up":0.118,"dn":-0.118},{"o":"O_p","e":0.81,"up":0.122,"dn":-0.122},{"o":"O_p","e":1.14,"up":0.134,"dn":-0.134},{"o":"O_p","e":1.46,"up":0.084,"dn":-0.084},{"o":"O_p","e":1.81,"up":0.08,"dn":-0.08},{"o":"O_p","e":2.1,"up":0.063,"dn":-0.063},{"o":"O_p","e":2.38,"up":0.046,"dn":-0.046},{"o":"O_p","e":2.74,"up":0.033,"dn":-0.033},{"o":"O_p","e":3.17,"up":0.02,"dn":-0.02},{"o":"O_p","e":3.9,"up":0.01,"dn":-0.01},{"o":"O_p","e":5,"up":0.006,"dn":-0.006},
      {"o":"O_s","e":-11,"up":0,"dn":0},{"o":"O_s","e":-8.2,"up":0,"dn":0},{"o":"O_s","e":-7.9,"up":0.005,"dn":-0.005},{"o":"O_s","e":-7.6,"up":0.04,"dn":-0.04},{"o":"O_s","e":-7.45,"up":0.05,"dn":-0.05},{"o":"O_s","e":-7.27,"up":0.037,"dn":-0.037},{"o":"O_s","e":-6.98,"up":0.058,"dn":-0.058},{"o":"O_s","e":-6.7,"up":0.068,"dn":-0.068},{"o":"O_s","e":-6.5,"up":0.063,"dn":-0.063},{"o":"O_s","e":-6.27,"up":0.02,"dn":-0.02},{"o":"O_s","e":-6,"up":0.004,"dn":-0.004},{"o":"O_s","e":-4,"up":0.003,"dn":-0.003},{"o":"O_s","e":2,"up":0.003,"dn":-0.003},{"o":"O_s","e":5,"up":0.004,"dn":-0.004},
      {"o":"H_s","e":-11,"up":0,"dn":0},{"o":"H_s","e":-8.2,"up":0,"dn":0},{"o":"H_s","e":-7.91,"up":0.002,"dn":-0.002},{"o":"H_s","e":-7.63,"up":0.071,"dn":-0.071},{"o":"H_s","e":-7.48,"up":0.147,"dn":-0.147},{"o":"H_s","e":-7.34,"up":0.08,"dn":-0.08},{"o":"H_s","e":-7.12,"up":0.029,"dn":-0.029},{"o":"H_s","e":-6.84,"up":0.012,"dn":-0.012},{"o":"H_s","e":-6.5,"up":0.004,"dn":-0.004},{"o":"H_s","e":-5,"up":0.005,"dn":-0.005},{"o":"H_s","e":-3,"up":0.008,"dn":-0.008},{"o":"H_s","e":0,"up":0.008,"dn":-0.008},{"o":"H_s","e":2,"up":0.008,"dn":-0.008},{"o":"H_s","e":4,"up":0.006,"dn":-0.006},{"o":"H_s","e":5,"up":0.005,"dn":-0.005}
    ],
    "key": [
      {"o":"Cu_s","m":"Cu","b":"s"},{"o":"Cu_p","m":"Cu","b":"p"},{"o":"Cu_d","m":"Cu","b":"d"},{"o":"C_s","m":"C","b":"s"},{"o":"C_p","m":"C","b":"p"},{"o":"O_s","m":"O","b":"s"},{"o":"O_p","m":"O","b":"p"},{"o":"H_s","m":"H","b":"s"}
    ]
  },
  "hconcat": [
    {"vconcat": [
      {"hconcat": [
        {"title": {"text": "(a)", "anchor": "start", "frame": "bounds", "offset": -26, "dx": -15, "font": "DejaVu Sans", "fontSize": 26, "fontWeight": "bold", "color": "black"},
         "vconcat": [
          {"width": 375, "height": 316, "data": {"name": "a"},
           "title": {"text": "Free CO", "anchor": "end", "frame": "group", "offset": -9, "font": "DejaVu Sans", "fontSize": 29, "fontWeight": "bold", "color": "black"},
           "encoding": {"x": {"field": "e", "type": "quantitative", "scale": {"domain": [-11, 5], "nice": false}, "axis": {"values": [-10, -5, 0, 5], "format": "d", "title": "Energy (eV)"}}},
           "layer": [
             {"mark": {"type": "line", "clip": true, "strokeWidth": 3.2, "interpolate": "monotone"}, "encoding": {"y": {"field": "up", "type": "quantitative", "scale": {"domain": [-0.4, 0.4], "nice": false, "zero": false}, "axis": {"values": [-0.4, -0.2, 0, 0.2, 0.4], "format": ".1f", "title": "DOS (State/eV/atom)"}}, "color": {"field": "o", "type": "nominal", "scale": {"domain": ["Cu_s","Cu_p","Cu_d","C_s","C_p","O_s","O_p","H_s"], "range": ["#6d3bdc","#1a8ff5","#0000ff","#15263a","#67767f","#fba7a7","#b22222","#2bcac6"]}, "legend": null}}},
             {"mark": {"type": "line", "clip": true, "strokeWidth": 3.2, "interpolate": "monotone"}, "encoding": {"y": {"field": "dn", "type": "quantitative", "scale": {"domain": [-0.4, 0.4], "nice": false, "zero": false}}, "color": {"field": "o", "type": "nominal"}}}
           ]}
         ]},
        {"title": {"text": "(b)", "anchor": "start", "frame": "bounds", "offset": -26, "dx": -15, "font": "DejaVu Sans", "fontSize": 26, "fontWeight": "bold", "color": "black"},
         "vconcat": [
          {"width": 373, "height": 316, "data": {"name": "b"},
           "title": {"text": "*CO+*H (R)", "anchor": "end", "frame": "group", "offset": -9, "font": "DejaVu Sans", "fontSize": 29, "fontWeight": "bold", "color": "black"},
           "encoding": {"x": {"field": "e", "type": "quantitative", "scale": {"domain": [-11, 5], "nice": false}, "axis": {"values": [-10, -5, 0, 5], "format": "d", "title": "Energy (eV)"}}},
           "layer": [
             {"mark": {"type": "line", "clip": true, "strokeWidth": 3.2, "interpolate": "monotone"}, "encoding": {"y": {"field": "up", "type": "quantitative", "scale": {"domain": [-0.4, 0.4], "nice": false, "zero": false}, "axis": {"values": [-0.4, -0.2, 0, 0.2, 0.4], "format": ".1f", "title": "DOS (State/eV/atom)"}}, "color": {"field": "o", "type": "nominal", "scale": {"domain": ["Cu_s","Cu_p","Cu_d","C_s","C_p","O_s","O_p","H_s"], "range": ["#6d3bdc","#1a8ff5","#0000ff","#15263a","#67767f","#fba7a7","#b22222","#2bcac6"]}, "legend": null}}},
             {"mark": {"type": "line", "clip": true, "strokeWidth": 3.2, "interpolate": "monotone"}, "encoding": {"y": {"field": "dn", "type": "quantitative", "scale": {"domain": [-0.4, 0.4], "nice": false, "zero": false}}, "color": {"field": "o", "type": "nominal"}}}
           ]}
         ]}
      ], "spacing": 42},
      {"hconcat": [
        {"title": {"text": "(c)", "anchor": "start", "frame": "bounds", "offset": -26, "dx": -15, "font": "DejaVu Sans", "fontSize": 26, "fontWeight": "bold", "color": "black"},
         "vconcat": [
          {"width": 375, "height": 316, "data": {"name": "c"},
           "title": {"text": "*H••CO (TS)", "anchor": "end", "frame": "group", "offset": -9, "font": "DejaVu Sans", "fontSize": 29, "fontWeight": "bold", "color": "black"},
           "encoding": {"x": {"field": "e", "type": "quantitative", "scale": {"domain": [-11, 5], "nice": false}, "axis": {"values": [-10, -5, 0, 5], "format": "d", "title": "Energy (eV)"}}},
           "layer": [
             {"mark": {"type": "line", "clip": true, "strokeWidth": 3.2, "interpolate": "monotone"}, "encoding": {"y": {"field": "up", "type": "quantitative", "scale": {"domain": [-0.4, 0.4], "nice": false, "zero": false}, "axis": {"values": [-0.4, -0.2, 0, 0.2, 0.4], "format": ".1f", "title": "DOS (State/eV/atom)"}}, "color": {"field": "o", "type": "nominal", "scale": {"domain": ["Cu_s","Cu_p","Cu_d","C_s","C_p","O_s","O_p","H_s"], "range": ["#6d3bdc","#1a8ff5","#0000ff","#15263a","#67767f","#fba7a7","#b22222","#2bcac6"]}, "legend": null}}},
             {"mark": {"type": "line", "clip": true, "strokeWidth": 3.2, "interpolate": "monotone"}, "encoding": {"y": {"field": "dn", "type": "quantitative", "scale": {"domain": [-0.4, 0.4], "nice": false, "zero": false}}, "color": {"field": "o", "type": "nominal"}}}
           ]}
         ]},
        {"title": {"text": "(d)", "anchor": "start", "frame": "bounds", "offset": -26, "dx": -15, "font": "DejaVu Sans", "fontSize": 26, "fontWeight": "bold", "color": "black"},
         "vconcat": [
          {"width": 373, "height": 316, "data": {"name": "d"},
           "title": {"text": "*HCO (P)", "anchor": "end", "frame": "group", "offset": -9, "font": "DejaVu Sans", "fontSize": 29, "fontWeight": "bold", "color": "black"},
           "encoding": {"x": {"field": "e", "type": "quantitative", "scale": {"domain": [-11, 5], "nice": false}, "axis": {"values": [-10, -5, 0, 5], "format": "d", "title": "Energy (eV)"}}},
           "layer": [
             {"mark": {"type": "line", "clip": true, "strokeWidth": 3.2, "interpolate": "monotone"}, "encoding": {"y": {"field": "up", "type": "quantitative", "scale": {"domain": [-0.4, 0.4], "nice": false, "zero": false}, "axis": {"values": [-0.4, -0.2, 0, 0.2, 0.4], "format": ".1f", "title": "DOS (State/eV/atom)"}}, "color": {"field": "o", "type": "nominal", "scale": {"domain": ["Cu_s","Cu_p","Cu_d","C_s","C_p","O_s","O_p","H_s"], "range": ["#6d3bdc","#1a8ff5","#0000ff","#15263a","#67767f","#fba7a7","#b22222","#2bcac6"]}, "legend": null}}},
             {"mark": {"type": "line", "clip": true, "strokeWidth": 3.2, "interpolate": "monotone"}, "encoding": {"y": {"field": "dn", "type": "quantitative", "scale": {"domain": [-0.4, 0.4], "nice": false, "zero": false}}, "color": {"field": "o", "type": "nominal"}}}
           ]}
         ]}
      ], "spacing": 42}
    ], "spacing": 24.5},
    {"width": 120, "height": 740, "data": {"name": "key"}, "view": {"stroke": null},
     "encoding": {"y": {"field": "o", "type": "nominal", "scale": {"type": "point", "padding": 0, "domain": ["Cu_s","Cu_p","Cu_d","C_s","C_p","O_s","O_p","H_s"], "range": [73, 726]}, "axis": null}},
     "layer": [
       {"mark": {"type": "rule", "strokeWidth": 11, "strokeCap": "round"}, "encoding": {"x": {"datum": 0.05, "type": "quantitative", "scale": {"domain": [0, 1], "nice": false}, "axis": null}, "x2": {"datum": 0.467}, "color": {"field": "o", "type": "nominal", "scale": {"domain": ["Cu_s","Cu_p","Cu_d","C_s","C_p","O_s","O_p","H_s"], "range": ["#6d3bdc","#1a8ff5","#0000ff","#15263a","#67767f","#fba7a7","#b22222","#2bcac6"]}, "legend": null}}},
       {"mark": {"type": "text", "align": "left", "baseline": "alphabetic", "fontSize": 29, "fontWeight": "bold", "dy": 11}, "encoding": {"x": {"datum": 0.525}, "text": {"field": "m"}}},
       {"transform": [{"filter": "datum.m == 'Cu'"}], "mark": {"type": "text", "align": "left", "baseline": "alphabetic", "fontSize": 18, "fontWeight": "bold", "dx": 46, "dy": 25}, "encoding": {"x": {"datum": 0.525}, "text": {"field": "b"}}},
       {"transform": [{"filter": "datum.m != 'Cu'"}], "mark": {"type": "text", "align": "left", "baseline": "alphabetic", "fontSize": 18, "fontWeight": "bold", "dx": 27, "dy": 25}, "encoding": {"x": {"datum": 0.525}, "text": {"field": "b"}}}
     ]}
  ],
  "spacing": 36
}
